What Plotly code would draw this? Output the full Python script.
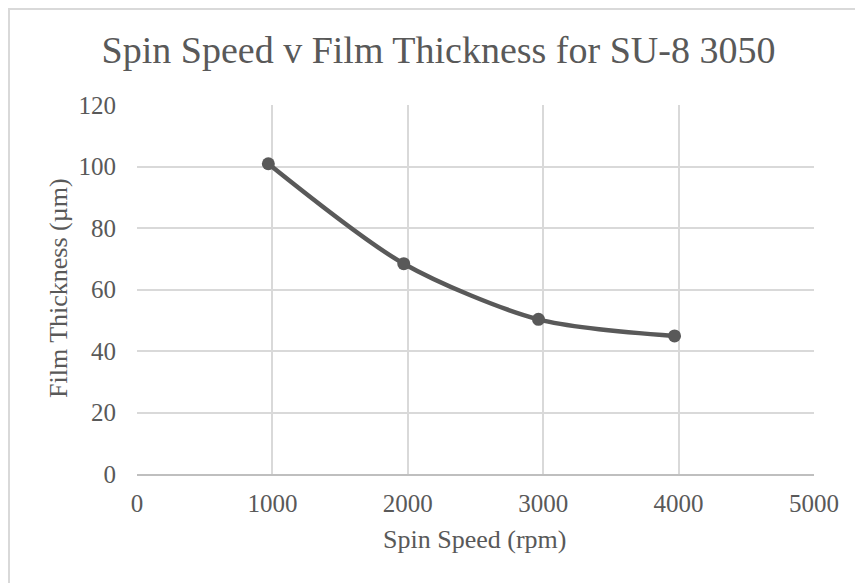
import plotly.graph_objects as go

spin_speed = [970, 1970, 2965, 3970]
thickness = [100.9, 68.4, 50.3, 44.9]
x_ticks = [0, 1000, 2000, 3000, 4000, 5000]
y_ticks = [0, 20, 40, 60, 80, 100, 120]

FONT = "Liberation Serif"
GREY = "#595959"

L, R, T, B = 137, 41, 105, 109
W, H = 855, 583
PW, PH = W - L - R, H - T - B

fig = go.Figure()
fig.add_trace(go.Scatter(
    x=spin_speed, y=thickness, mode="lines+markers",
    line=dict(color=GREY, width=4.5, shape="spline", smoothing=0.8),
    marker=dict(color=GREY, size=13),
    showlegend=False,
))

fig.update_layout(
    width=W, height=H,
    margin=dict(l=L, r=R, t=T, b=B),
    paper_bgcolor="white", plot_bgcolor="white",
    font=dict(family=FONT, color=GREY),
    title=dict(text="Spin Speed v Film Thickness for SU-8 3050",
               x=438.5 / W, xanchor="center", y=0.915, yanchor="middle",
               xref="container",
               font=dict(family=FONT, size=38, color=GREY)),
    xaxis=dict(range=[0, 5000], tickvals=x_ticks, showgrid=True,
               gridcolor="#D9D9D9", gridwidth=1.5, zeroline=False,
               showline=True, linecolor="#BFBFBF", linewidth=1.5,
               ticks="", ticklabelstandoff=6,
               tickfont=dict(family=FONT, size=25, color=GREY)),
    yaxis=dict(range=[0, 120], tickvals=y_ticks, showgrid=True,
               gridcolor="#D9D9D9", gridwidth=1.5, zeroline=False,
               showline=False, ticks="", ticklabelstandoff=20,
               tickfont=dict(family=FONT, size=25, color=GREY)),
    annotations=[
        dict(text="Spin Speed (rpm)", xref="paper", yref="paper",
             x=(474.5 - L) / PW, y=(H - B - 539) / PH,
             xanchor="center", yanchor="middle", showarrow=False,
             font=dict(family=FONT, size=26, color=GREY)),
        dict(text="Film Thickness (µm)", xref="paper", yref="paper",
             x=(58 - L) / PW, y=(H - B - 288) / PH, textangle=-90,
             xanchor="center", yanchor="middle", showarrow=False,
             font=dict(family=FONT, size=26, color=GREY)),
    ],
    shapes=[dict(type="rect", xref="paper", yref="paper",
                 x0=(9 - L) / PW, x1=1.2, y0=-0.5, y1=(H - B - 9) / PH,
                 line=dict(color="#D9D9D9", width=2), layer="below")],
)

fig.write_html("out.html")
